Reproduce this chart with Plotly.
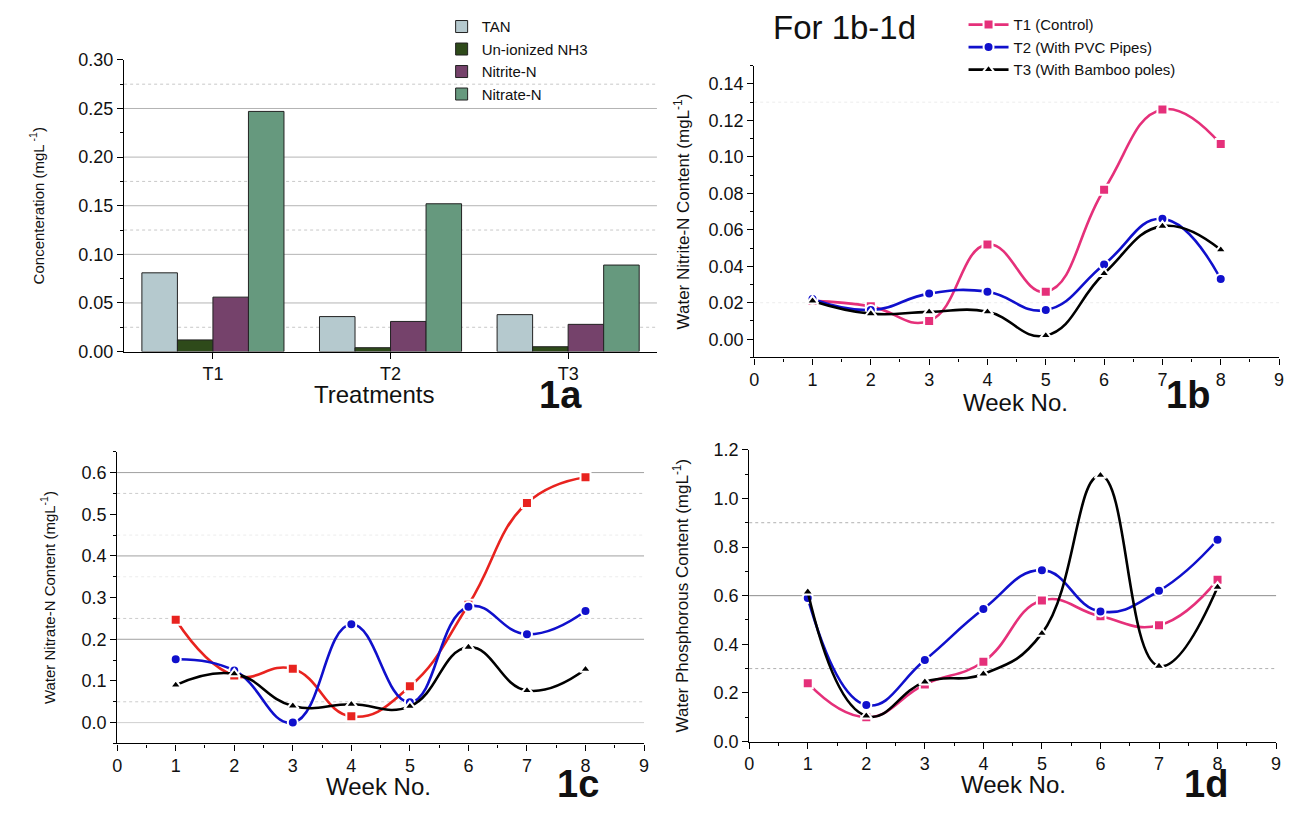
import plotly.graph_objects as go

# ---------------- data ----------------
treatments = ["T1", "T2", "T3"]
tan = [0.081, 0.036, 0.038]
nh3 = [0.012, 0.004, 0.005]
nitrite_bar = [0.056, 0.031, 0.028]
nitrate_bar = [0.247, 0.152, 0.089]

weeks = [1, 2, 3, 4, 5, 6, 7, 8]
series_names = ["T1 (Control)", "T2 (With PVC Pipes)", "T3 (With Bamboo poles)"]

nitrite_t1 = [0.021, 0.018, 0.010, 0.052, 0.026, 0.082, 0.126, 0.107]
nitrite_t2 = [0.022, 0.016, 0.025, 0.026, 0.016, 0.041, 0.066, 0.033]
nitrite_t3 = [0.021, 0.014, 0.015, 0.015, 0.002, 0.036, 0.062, 0.049]

nitrate_t1 = [0.247, 0.113, 0.129, 0.015, 0.087, 0.283, 0.527, 0.589]
nitrate_t2 = [0.152, 0.125, 0.000, 0.236, 0.049, 0.278, 0.212, 0.268]
nitrate_t3 = [0.090, 0.117, 0.040, 0.044, 0.039, 0.181, 0.077, 0.128]

phos_t1 = [0.240, 0.100, 0.235, 0.328, 0.580, 0.515, 0.478, 0.665]
phos_t2 = [0.590, 0.150, 0.335, 0.545, 0.705, 0.535, 0.620, 0.830]
phos_t3 = [0.615, 0.105, 0.245, 0.278, 0.445, 1.095, 0.310, 0.635]

# ---------------- style ----------------
# page body keeps its default 8px margin, so the figure is 16px smaller
OFF = 8
W, H = 1300 - 2 * OFF, 813 - 2 * OFF
FONT = "Liberation Sans, Arial, sans-serif"
BAR_COLORS = ["#b5c9ce", "#2e4a1a", "#75426b", "#66997e"]
PINK, RED, BLUE, BLACK = "#e5307a", "#e8231f", "#1010cc", "#000000"
SYMBOLS = ["square", "circle", "triangle-up"]


def px_x(a):
    return (a - OFF) / W


def px_y(b):
    return 1 - (b - OFF) / H


def dx(a, b):
    return [px_x(a), px_x(b)]


def dy(top, bottom):
    return [px_y(bottom), px_y(top)]


fig = go.Figure()

# ---- 1a bars ----
for name, vals, col in zip(["TAN", "Un-ionized NH3", "Nitrite-N", "Nitrate-N"],
                           [tan, nh3, nitrite_bar, nitrate_bar], BAR_COLORS):
    fig.add_trace(go.Bar(x=treatments, y=vals, name=name, marker_color=col,
                         marker_line=dict(color="#222222", width=1),
                         xaxis="x", yaxis="y", legend="legend"))


def add_lines(xa, ya, data, colors, show):
    for nm, vals, col, sym in zip(series_names, data, colors, SYMBOLS):
        fig.add_trace(go.Scatter(
            x=weeks, y=vals, name=nm, mode="lines+markers",
            line=dict(color=col, width=2.6, shape="spline", smoothing=1.3),
            marker=dict(symbol=sym, size=10, color=col,
                        line=dict(color="white", width=2)),
            xaxis=xa, yaxis=ya, legend="legend2", showlegend=show))


add_lines("x2", "y2", [nitrite_t1, nitrite_t2, nitrite_t3], [PINK, BLUE, BLACK], True)
add_lines("x3", "y3", [nitrate_t1, nitrate_t2, nitrate_t3], [RED, BLUE, BLACK], False)
add_lines("x4", "y4", [phos_t1, phos_t2, phos_t3], [PINK, BLUE, BLACK], False)

axis_common = dict(showline=True, linecolor="black", linewidth=1.3, ticks="outside",
                   ticklen=6, tickwidth=1.2, tickcolor="black", showgrid=False,
                   zeroline=False, tickfont=dict(family=FONT, size=18, color="#111"))


def minor(dt):
    return dict(dtick=dt, ticks="outside", ticklen=3, tickcolor="black", showgrid=False)


fig.update_layout(
    width=W, height=H, autosize=False, margin=dict(l=0, r=0, t=0, b=0),
    paper_bgcolor="white", plot_bgcolor="white",
    font=dict(family=FONT, color="#111"),
    barmode="group", bargap=0.2, bargroupgap=0,
    xaxis=dict(domain=dx(120, 657), anchor="y", range=[-0.5, 2.5], **axis_common),
    yaxis=dict(domain=dy(49, 349), anchor="x", range=[0, 0.30], dtick=0.05,
               tickformat=".2f", minor=minor(0.025),
               title=dict(text="Concenteration (mgL<sup> -1</sup>)",
                          font=dict(size=15, family=FONT), standoff=30),
               **axis_common),
    xaxis2=dict(domain=dx(755, 1284), anchor="y2", range=[0, 9], dtick=1,
                minor=minor(0.5), **axis_common),
    yaxis2=dict(domain=dy(55, 355), anchor="x2", range=[-0.01, 0.15], dtick=0.02,
                tickformat=".2f", minor=minor(0.01),
                title=dict(text="Water Nitrite-N Content (mgL<sup>-1</sup>)",
                           font=dict(size=17, family=FONT), standoff=14),
                **axis_common),
    xaxis3=dict(domain=dx(113, 644), anchor="y3", range=[0, 9], dtick=1,
                minor=minor(0.5), **axis_common),
    yaxis3=dict(domain=dy(452, 752), anchor="x3", range=[-0.05, 0.65], dtick=0.1,
                tickformat=".1f", minor=minor(0.05),
                title=dict(text="Water Nitrate-N Content (mgL<sup>-1</sup>)",
                           font=dict(size=15, family=FONT), standoff=22),
                **axis_common),
    xaxis4=dict(domain=dx(750, 1281), anchor="y4", range=[0, 9], dtick=1,
                minor=minor(0.5), **axis_common),
    yaxis4=dict(domain=dy(450, 750), anchor="x4", range=[0, 1.2], dtick=0.2,
                tickformat=".1f", minor=minor(0.1),
                title=dict(text="Water Phosphorous Content (mgL<sup>-1</sup>)",
                           font=dict(size=17, family=FONT), standoff=20),
                **axis_common),
    legend=dict(x=px_x(440), y=px_y(-2), xanchor="left", yanchor="top",
                bgcolor="rgba(255,255,255,0)", font=dict(size=15, family=FONT),
                tracegroupgap=0, itemwidth=30),
    legend2=dict(x=px_x(966), y=px_y(-4), xanchor="left", yanchor="top",
                 bgcolor="rgba(255,255,255,0)", font=dict(size=15, family=FONT),
                 tracegroupgap=0, itemwidth=40),
)

# ---- grid lines (drawn below data) ----
def hline(yref, xref, yv, color, dash, width=1):
    fig.add_shape(type="line", xref=xref + " domain", yref=yref, x0=0, x1=1,
                  y0=yv, y1=yv, layer="below",
                  line=dict(color=color, width=width, dash=dash))


for v in [0.05, 0.10, 0.15, 0.20, 0.25]:
    hline("y", "x", v, "#b4b4b4", "solid")
for v in [0.025, 0.125, 0.175, 0.275]:
    hline("y", "x", v, "#c8c8c8", "dot")
for v in [0.02, 0.13]:
    hline("y2", "x2", v, "#ececec", "dot")
for v in [0.2, 0.4, 0.6]:
    hline("y3", "x3", v, "#a0a0a0", "solid")
hline("y3", "x3", 0.0, "#cfcfcf", "solid")
for v in [0.05, 0.25, 0.55]:
    hline("y3", "x3", v, "#cccccc", "dot")
for v in [0.35, 0.45]:
    hline("y3", "x3", v, "#ececec", "dot")
hline("y4", "x4", 0.6, "#8c8c8c", "solid")
for v in [0.3, 0.9]:
    hline("y4", "x4", v, "#b0b0b0", "dot")

# ---- text labels ----
def label(text, px, py, size, bold=False):
    fig.add_annotation(x=px_x(px), y=px_y(py), xref="paper", yref="paper",
                       text=f"<b>{text}</b>" if bold else text, showarrow=False,
                       xanchor="center", yanchor="middle",
                       font=dict(size=size, family=FONT, color="#111"))


label("Treatments", 372, 393, 24)
label("1a", 560, 394, 38, True)
label("For 1b-1d", 846, 16, 33)
label("Week No.", 1018, 401, 24)
label("1b", 1192, 394, 38, True)
label("Week No.", 376, 796, 24)
label("1c", 577, 794, 38, True)
label("Week No.", 1016, 794, 24)
label("1d", 1210, 794, 38, True)

fig.write_html("out.html", config={"displayModeBar": False})
